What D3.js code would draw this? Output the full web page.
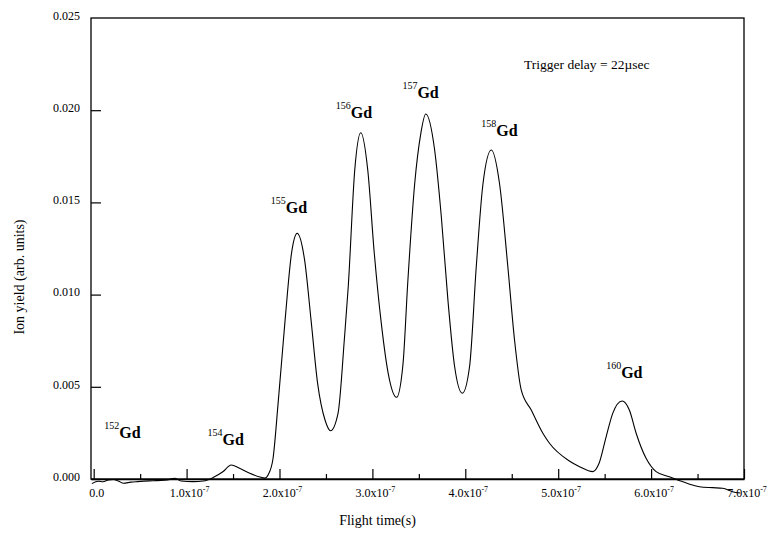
<!DOCTYPE html>
<html>
<head>
<meta charset="utf-8">
<script src="https://cdn.jsdelivr.net/npm/d3@7"></script>
<style>
  body { margin: 0; background: #fff; }
  svg { font-family: "Liberation Serif", "Times New Roman", serif; }
</style>
</head>
<body>
<div id="chart"></div>
<script>
// flight time in units of 1e-7 s
var flightTime = [-0.02, 0.05, 0.10, 0.16, 0.21, 0.27, 0.32, 0.40, 0.47, 0.60, 0.68, 0.82, 0.87, 0.94,
    1.07, 1.18, 1.29, 1.39, 1.48, 1.57, 1.68, 1.80, 1.84, 1.88, 1.93, 1.985, 2.06, 2.13, 2.19, 2.27,
    2.34, 2.41, 2.49, 2.55, 2.63, 2.70, 2.74, 2.81, 2.875, 2.95, 3.02, 3.10, 3.17, 3.26, 3.33, 3.38,
    3.455, 3.52, 3.574, 3.67, 3.742, 3.813, 3.885, 3.968, 4.046, 4.118, 4.19, 4.28, 4.369, 4.458, 4.53,
    4.602, 4.71, 4.835, 4.906, 5.12, 5.23, 5.372, 5.44, 5.516, 5.587, 5.688, 5.766, 5.839, 5.946,
    6.054, 6.196, 6.286, 6.447, 6.519, 6.662, 6.77, 6.877, 6.96];
// ion yield in units of 1e-3 (arb. units)
var ionYield = [-0.25, -0.12, -0.15, -0.05, -0.03, -0.12, -0.23, -0.17, -0.14, -0.10, -0.09, -0.02, 0.04, -0.11,
    -0.14, -0.11, 0.09, 0.39, 0.76, 0.58, 0.31, 0.09, 0.05, 0.25, 1.1, 4.1, 8.6, 12.26, 13.32, 11.88,
    8.6, 5.2, 3.2, 2.62, 3.56, 7.7, 10.43, 16.76, 18.78, 16.76, 12.26, 8.26, 5.73, 4.43, 6.27, 10.6,
    16.0, 18.7, 19.79, 17.84, 14.22, 9.7, 6.1, 4.65, 6.1, 11.51, 16.0, 17.84, 16.0, 11.51, 7.54,
    4.83, 3.74, 2.48, 1.94, 0.98, 0.67, 0.40, 0.85, 2.29, 3.56, 4.23, 3.74, 2.48, 1.12,
    0.40, 0.12, -0.05, -0.33, -0.42, -0.47, -0.50, -0.69, -0.76];

var xMajorTicks = [0, 1, 2, 3, 4, 5, 6, 7];
var xMinorTicks = [0.5, 1.5, 2.5, 3.5, 4.5, 5.5, 6.5];
var yTicks = [0, 0.005, 0.010, 0.015, 0.020, 0.025];

// isotope labels, anchored in data coordinates
var isotopeMass = ["152", "154", "155", "156", "157", "158", "160"];
var labelTime = [0.114, 1.226, 1.906, 2.605, 3.323, 4.172, 5.516];
var labelYield = [2.21, 1.84, 14.4, 19.56, 20.64, 18.6, 5.5];

var width = 768, height = 535;
var margin = {top: 18, right: 24, bottom: 56, left: 91};

var svg = d3.select("#chart").append("svg")
    .attr("width", width)
    .attr("height", height);

var x = d3.scaleLinear().domain([-0.029, 7]).range([margin.left, width - margin.right]);
var y = d3.scaleLinear().domain([0, 0.025]).range([height - margin.bottom, margin.top]);

var points = flightTime.map(function(t, i) { return [t, ionYield[i] / 1000]; });

// frame
svg.append("rect")
    .attr("x", x.range()[0])
    .attr("y", y.range()[1])
    .attr("width", x.range()[1] - x.range()[0])
    .attr("height", y.range()[0] - y.range()[1])
    .attr("fill", "none")
    .attr("stroke", "#000")
    .attr("stroke-width", 1.3);

// x axis: inward major and minor ticks
var xAxis = svg.append("g")
    .attr("transform", "translate(0," + y(0) + ")")
    .call(d3.axisBottom(x).tickValues(xMajorTicks).tickSizeInner(-10).tickSizeOuter(0).tickFormat(""));
svg.append("g")
    .attr("transform", "translate(0," + y(0) + ")")
    .call(d3.axisBottom(x).tickValues(xMinorTicks).tickSizeInner(-5).tickSizeOuter(0).tickFormat(""))
    .select(".domain").remove();
xAxis.select(".domain").attr("stroke-width", 1.6);
svg.selectAll(".tick line").attr("stroke-width", 1.2);

var xLabels = svg.append("g").attr("font-size", 12);
xMajorTicks.forEach(function(v) {
    var t = xLabels.append("text")
        .attr("x", x(v) + 3)
        .attr("y", y(0) + 18)
        .attr("text-anchor", "middle");
    if (v == 0) {
        t.text("0.0");
    } else {
        t.append("tspan").text(v.toFixed(1) + "x10");
        t.append("tspan").attr("font-size", 8).attr("dy", -5).text("-7");
    }
});

// y axis
var yAxis = svg.append("g")
    .attr("transform", "translate(" + x.range()[0] + ",0)")
    .call(d3.axisLeft(y).tickValues(yTicks).tickSizeInner(-10).tickSizeOuter(0)
        .tickPadding(11).tickFormat(d3.format(".3f")));
yAxis.select(".domain").remove();
yAxis.selectAll(".tick line").attr("stroke-width", 1.2);
yAxis.selectAll(".tick text")
    .attr("font-family", "Liberation Serif")
    .attr("font-size", 12)
    .attr("dy", "0.1em");
yAxis.selectAll(".tick").filter(function(d) { return d == 0.025; }).select("line").remove();

// curve
var line = d3.line()
    .x(function(d) { return x(d[0]); })
    .y(function(d) { return y(d[1]); })
    .curve(d3.curveMonotoneX);

svg.append("path")
    .datum(points)
    .attr("fill", "none")
    .attr("stroke", "#000")
    .attr("stroke-width", 1.1)
    .attr("d", line);

// isotope labels
isotopeMass.forEach(function(m, i) {
    var t = svg.append("text")
        .attr("x", x(labelTime[i]))
        .attr("y", y(labelYield[i] / 1000));
    t.append("tspan").attr("font-size", 10).attr("dy", -9).text(m);
    t.append("tspan").attr("font-size", 16).attr("font-weight", "bold").attr("dy", 9).text("Gd");
});

svg.append("text")
    .attr("x", 524)
    .attr("y", 69)
    .attr("font-size", 13.5)
    .text("Trigger delay = 22\u00b5sec");

// axis titles
svg.append("text")
    .attr("x", (x.range()[0] + x.range()[1]) / 2 - 40)
    .attr("y", 525)
    .attr("text-anchor", "middle")
    .attr("font-size", 14)
    .text("Flight time(s)");

svg.append("text")
    .attr("transform", "translate(24," + 277 + ")rotate(-90)")
    .attr("text-anchor", "middle")
    .attr("font-size", 14)
    .text("Ion yield (arb. units)");
</script>
</body>
</html>
